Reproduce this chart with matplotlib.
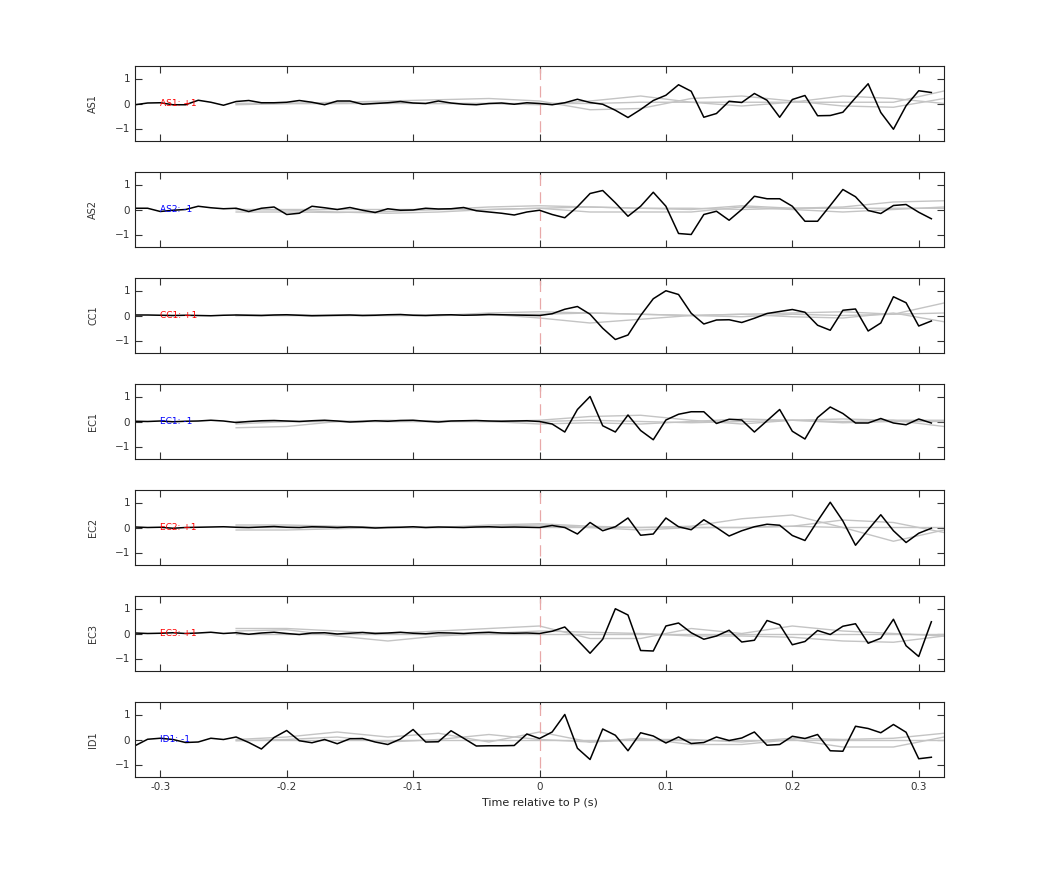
import numpy as np
import matplotlib
matplotlib.use("Agg")
import matplotlib.pyplot as plt

t = np.round(np.arange(-0.32, 0.315, 0.01), 2)
tg = np.round(np.arange(-0.24, 0.33, 0.04), 2)

names = ["AS1", "AS2", "CC1", "EC1", "EC2", "EC3", "ID1"]
labels = ["AS1: +1", "AS2: -1", "CC1: +1", "EC1: -1", "EC2: +1", "EC3: +1", "ID1: -1"]
label_colors = ["red", "blue", "red", "blue", "red", "red", "blue"]

AS1 = [-0.05,0.02,0.03,-0.05,-0.05,0.13,0.05,-0.07,0.08,0.12,0.03,0.03,0.05,0.12,0.05,-0.05,
       0.1,0.1,-0.03,0,0.03,0.08,0.02,0,0.1,0.02,-0.03,-0.05,0,0.02,-0.03,0.03,
       0,-0.05,0.03,0.17,0.04,-0.03,-0.27,-0.56,-0.24,0.12,0.33,0.75,0.49,-0.55,-0.4,0.09,
       0.04,0.4,0.13,-0.55,0.16,0.32,-0.49,-0.48,-0.35,0.23,0.79,-0.36,-1.03,-0.09,0.51,0.44]
AS2 = [0.05,0.05,-0.08,-0.03,0,0.13,0.07,0.03,0.05,-0.08,0.05,0.1,-0.2,-0.15,0.13,0.07,
       0,0.08,-0.03,-0.12,0.03,-0.03,-0.02,0.05,0.02,0.03,0.08,-0.05,-0.1,-0.15,-0.22,-0.1,
       -0.03,-0.2,-0.33,0.11,0.64,0.76,0.27,-0.27,0.13,0.69,0.13,-0.96,-1.0,-0.2,-0.07,-0.43,
       0,0.53,0.43,0.43,0.13,-0.47,-0.47,0.16,0.8,0.51,-0.04,-0.16,0.16,0.2,-0.11,-0.37]
CC1 = [0.02,0.02,0.01,0,0.01,0,-0.01,0.01,0.02,0.01,0,0.02,0.03,0.01,-0.01,0,
       0.01,0.02,0,0.01,0.03,0.04,0.01,0,0.02,0.03,0.01,0.02,0.04,0.03,0.02,0.01,
       0,0.07,0.25,0.36,0.05,-0.51,-0.96,-0.78,0,0.67,0.99,0.84,0.09,-0.34,-0.18,-0.17,
       -0.28,-0.11,0.08,0.16,0.24,0.13,-0.39,-0.59,0.21,0.26,-0.62,-0.3,0.75,0.51,-0.42,-0.22]
EC1 = [0.01,0,0.02,-0.01,0.01,0.02,0.05,0.02,-0.04,0,0.03,0.04,0.02,0,0.03,0.05,
       0.02,-0.02,0,0.03,0.01,0.04,0.05,0.01,-0.02,0.02,0.03,0.04,0.02,0.01,0.02,0.03,
       0,-0.1,-0.42,0.48,1.0,-0.17,-0.42,0.26,-0.36,-0.73,0.06,0.29,0.39,0.39,-0.08,0.09,
       0.06,-0.42,0.03,0.48,-0.39,-0.7,0.16,0.58,0.32,-0.06,-0.06,0.12,-0.06,-0.13,0.1,-0.06]
EC2 = [0.02,0,0.01,-0.03,0,0.01,0.02,0.03,0.01,0,0.02,0.04,0.01,0,0.03,0.02,
       0,0.02,0.01,-0.02,0,0.01,0.03,0,0.02,0.01,0,0.02,0.03,0.01,0.02,0.01,
       0,0.08,0,-0.26,0.2,-0.13,0.03,0.38,-0.31,-0.26,0.38,0.03,-0.09,0.31,0,-0.34,
       -0.13,0.03,0.13,0.09,-0.32,-0.52,0.26,1.01,0.26,-0.71,-0.09,0.51,-0.13,-0.6,-0.23,-0.03]
EC3 = [0.02,0,0.01,0.03,0,0.02,0.05,0,0.03,-0.03,0.02,0.05,0,-0.04,0.02,0.03,
       -0.02,0.01,0.04,0,0.02,0.05,0.01,-0.01,0.03,0.02,0,0.03,0.05,0.02,0.01,0.02,
       0,0.09,0.26,-0.26,-0.79,-0.23,0.99,0.74,-0.68,-0.7,0.3,0.42,0.03,-0.23,-0.1,0.13,
       -0.34,-0.27,0.52,0.35,-0.45,-0.32,0.12,-0.04,0.29,0.39,-0.39,-0.19,0.57,-0.49,-0.92,0.47]
ID1 = [-0.25,0.01,0.05,0,-0.12,-0.1,0.05,0,0.1,-0.12,-0.38,0.08,0.36,-0.05,-0.13,0,
       -0.17,0.03,0.04,-0.1,-0.2,0.02,0.4,-0.1,-0.09,0.35,0.05,-0.26,-0.25,-0.25,-0.24,0.22,
       0.04,0.3,1.0,-0.35,-0.8,0.42,0.17,-0.45,0.27,0.14,-0.14,0.1,-0.16,-0.12,0.1,-0.04,
       0.06,0.3,-0.23,-0.2,0.13,0.04,0.2,-0.45,-0.47,0.53,0.44,0.27,0.6,0.29,-0.77,-0.71]
series = [AS1, AS2, CC1, EC1, EC2, EC3, ID1]

# gray reference curves, sampled at tg
AS1_g = [[-0.05,0,0.05,0.1,0.15,0.2,0.1,-0.25,-0.2,0.2,0.3,0.1,-0.1,-0.15,0.2],
         [0,0,0,0.02,0,0,-0.05,0.1,0.3,0.05,-0.1,0.05,0.3,0.2,0.0],
         [0,0,0,0,0,0,0,0,0.05,0.05,0.05,0.05,0.05,0.05,0.5]]
AS2_g = [[-0.1,-0.1,-0.12,-0.08,0,0.1,0.15,0.1,0.05,0,0.15,0.05,0.1,0.3,0.35],
         [0,-0.02,-0.1,-0.15,-0.1,0,0.05,-0.1,-0.1,-0.1,0.1,0,-0.1,0,0.1],
         [0,0,0,0,0,0,0.05,0.1,0.05,0.05,0,0.05,0.05,0.05,0.05]]
CC1_g = [[0,0,0,0,0,0.1,0.15,0.1,0.05,0,0.05,0.1,0.15,0.05,0.5],
         [0,0,0,0,0,0.05,-0.1,-0.3,-0.15,0,0.05,-0.05,-0.1,0.1,-0.25],
         [0,0.02,0,0.02,0,0.02,0.05,0.1,0.05,0,-0.05,0.05,0,0.05,0.1]]
EC1_g = [[-0.25,-0.2,0,0.05,0.02,0,0.05,0.2,0.25,0.05,-0.1,0.05,0.1,0.05,-0.2],
         [-0.1,0,0,0,0,0,-0.1,-0.05,-0.1,0,0.1,0.05,-0.05,0,0],
         [0,0,0,0,0,0,0,0.05,0,-0.05,0,0.05,0,0.05,0.05]]
EC2_g = [[0.1,0.1,0.05,0,0,0.1,0.15,0.05,0,0.05,0.35,0.5,0,-0.55,-0.1],
         [-0.1,-0.1,-0.05,0,0,0.05,0.1,0,-0.1,0,0,0.05,0.3,0.2,-0.2],
         [0,0,0,0,0,0,0,0,0,0,0,0.05,0,0,0]]
EC3_g = [[0.2,0.2,0.1,0,0.1,0.2,0.3,-0.2,-0.2,0.2,0,0.3,0.1,0,-0.1],
         [0.1,0.15,-0.1,-0.3,-0.1,0,0.1,0.05,0,-0.1,-0.1,-0.15,-0.3,-0.35,-0.1],
         [0,0,0,0,0,0,0,0,0,0,0,0,0,0,0]]
ID1_g = [[0,0.1,0.3,0.1,0.25,-0.1,0.3,-0.1,0,0,-0.1,0.05,0,0.05,0.25],
         [-0.05,0,0.1,-0.1,0,0.2,0,-0.1,0.05,-0.2,-0.2,0,-0.3,-0.3,0.1],
         [0,0,0,0,0,0,0,0,0,0,0,0,0,0,0]]
grays = [AS1_g, AS2_g, CC1_g, EC1_g, EC2_g, EC3_g, ID1_g]

fig = plt.figure(figsize=(10.42, 8.75), dpi=100)
W, H = 1042, 875
tops = [66, 172, 278, 384, 490, 596, 702]
for i, top in enumerate(tops):
    ax = fig.add_axes([135 / W, 1 - (top + 75) / H, 809 / W, 75 / H])
    for g in grays[i]:
        ax.plot(tg, g, color="#c4c4c4", lw=1.0)
    ax.axvline(0, color="#e8a8a8", lw=0.9, ls=(0, (9, 5)), ymin=0.12, ymax=1)
    ax.text(-0.3, 0, labels[i], color=label_colors[i], fontsize=6.5, va="center", ha="left")
    ax.plot(t, series[i], color="black", lw=1.1)
    ax.set_xlim(-0.32, 0.32)
    ax.set_ylim(-1.5, 1.5)
    ax.set_yticks([-1, 0, 1])
    ax.set_xticks([-0.3, -0.2, -0.1, 0, 0.1, 0.2, 0.3])
    ax.tick_params(direction="in", top=True, right=True, labelsize=7.5, colors="#333333", length=5)
    ax.set_ylabel(names[i], fontsize=7, color="#333333", labelpad=12)
    for s in ax.spines.values():
        s.set_color("#222222")
        s.set_linewidth(0.8)
    if i < 6:
        ax.set_xticklabels([])
    else:
        ax.set_xticklabels(["-0.3", "-0.2", "-0.1", "0", "0.1", "0.2", "0.3"])
        ax.set_xlabel("Time relative to P (s)", fontsize=8, color="#222222")
fig.savefig("out.png", dpi=100)
